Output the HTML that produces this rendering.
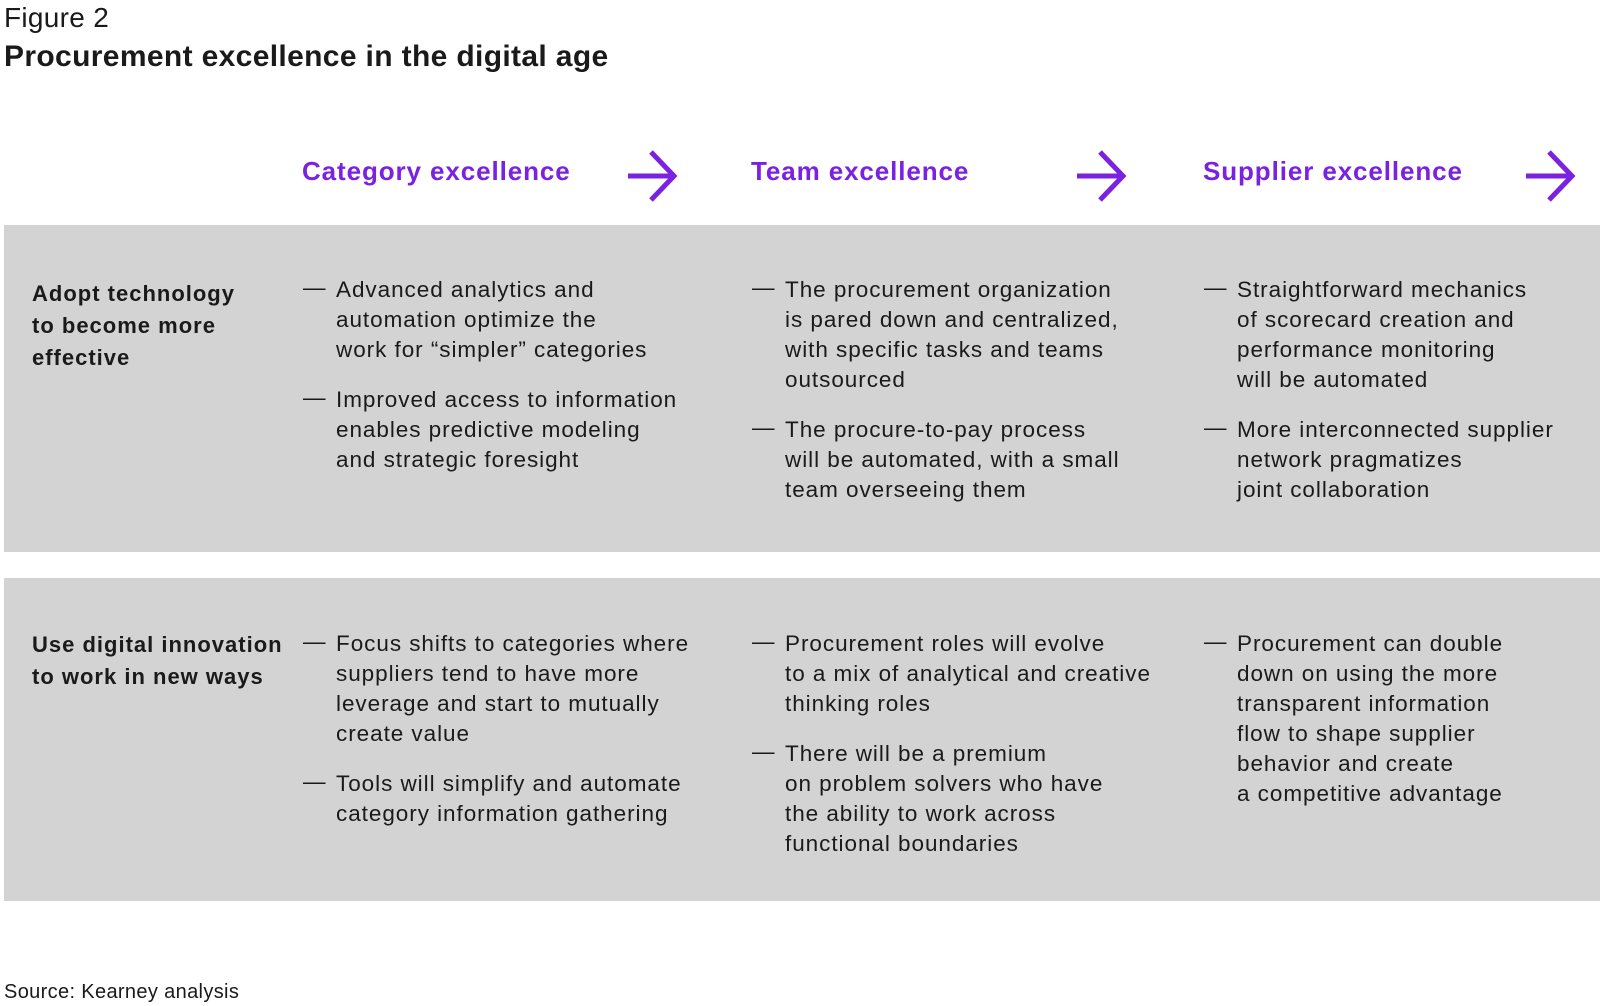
<!DOCTYPE html>
<html><head><meta charset="utf-8"><style>
body{margin:0;width:1600px;height:1006px;background:#fff;position:relative;font-family:"Liberation Sans",sans-serif;color:#1a1a1a;overflow:hidden}
.a{position:absolute;white-space:nowrap}
.band{position:absolute;left:4px;width:1596px;background:#d3d3d3}
.h{font-weight:bold;color:#7a22e0;font-size:26px;letter-spacing:0.9px}
.lab{font-weight:bold;font-size:22px;line-height:32px;letter-spacing:1px}
.t{font-size:22.5px;line-height:30px;letter-spacing:0.95px}
.d{font-size:22.5px}
svg{position:absolute}
</style></head><body>
<div class="a" style="left:4px;top:2px;font-size:28px;font-weight:300;letter-spacing:0.3px">Figure 2</div>
<div class="a" style="left:4px;top:40px;font-size:30px;font-weight:bold;letter-spacing:0.35px">Procurement excellence in the digital age</div>

<div class="a h" style="left:302px;top:156px">Category excellence</div>
<div class="a h" style="left:751px;top:156px">Team excellence</div>
<div class="a h" style="left:1203px;top:156px">Supplier excellence</div>
<svg width="1600" height="220" style="left:0;top:0">
<g stroke="#7a22e0" stroke-width="5" fill="none">
<path d="M628 176 H672 M651 152 L674 176 L651 200"/>
<path d="M1077 176 H1121 M1100 152 L1123 176 L1100 200"/>
<path d="M1526 176 H1570 M1549 152 L1572 176 L1549 200"/>
</g></svg>

<div class="band" style="top:225px;height:327px"></div>
<div class="band" style="top:578px;height:323px"></div>

<div class="a lab" style="left:32px;top:278px">Adopt technology<br>to become more<br>effective</div>
<div class="a lab" style="left:32px;top:629px">Use digital innovation<br>to work in new ways</div>

<!-- row 1 -->
<div class="a d" style="left:303px;top:275px">—</div>
<div class="a t" style="left:336px;top:275px">Advanced analytics and<br>automation optimize the<br>work for “simpler” categories</div>
<div class="a d" style="left:303px;top:385px">—</div>
<div class="a t" style="left:336px;top:385px">Improved access to information<br>enables predictive modeling<br>and strategic foresight</div>

<div class="a d" style="left:752px;top:275px">—</div>
<div class="a t" style="left:785px;top:275px">The procurement organization<br>is pared down and centralized,<br>with specific tasks and teams<br>outsourced</div>
<div class="a d" style="left:752px;top:415px">—</div>
<div class="a t" style="left:785px;top:415px">The procure-to-pay process<br>will be automated, with a small<br>team overseeing them</div>

<div class="a d" style="left:1204px;top:275px">—</div>
<div class="a t" style="left:1237px;top:275px">Straightforward mechanics<br>of scorecard creation and<br>performance monitoring<br>will be automated</div>
<div class="a d" style="left:1204px;top:415px">—</div>
<div class="a t" style="left:1237px;top:415px">More interconnected supplier<br>network pragmatizes<br>joint collaboration</div>

<!-- row 2 -->
<div class="a d" style="left:303px;top:629px">—</div>
<div class="a t" style="left:336px;top:629px">Focus shifts to categories where<br>suppliers tend to have more<br>leverage and start to mutually<br>create value</div>
<div class="a d" style="left:303px;top:769px">—</div>
<div class="a t" style="left:336px;top:769px">Tools will simplify and automate<br>category information gathering</div>

<div class="a d" style="left:752px;top:629px">—</div>
<div class="a t" style="left:785px;top:629px">Procurement roles will evolve<br>to a mix of analytical and creative<br>thinking roles</div>
<div class="a d" style="left:752px;top:739px">—</div>
<div class="a t" style="left:785px;top:739px">There will be a premium<br>on problem solvers who have<br>the ability to work across<br>functional boundaries</div>

<div class="a d" style="left:1204px;top:629px">—</div>
<div class="a t" style="left:1237px;top:629px">Procurement can double<br>down on using the more<br>transparent information<br>flow to shape supplier<br>behavior and create<br>a competitive advantage</div>

<div class="a" style="left:4px;top:981px;font-size:20px;letter-spacing:0.35px">Source: Kearney analysis</div>
</body></html>
